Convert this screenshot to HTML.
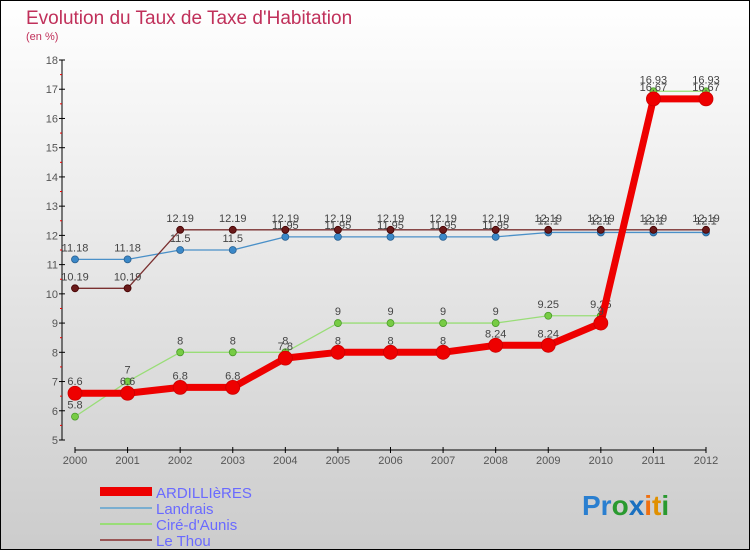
<!DOCTYPE html>
<html><head><meta charset="utf-8"><style>
body{margin:0;width:750px;height:550px;overflow:hidden;font-family:"Liberation Sans",sans-serif}
svg{display:block}
</style></head><body>
<svg width="750" height="550" xmlns="http://www.w3.org/2000/svg">
<defs><linearGradient id="bg" x1="0" y1="0" x2="0" y2="1"><stop offset="0" stop-color="#ffffff"/><stop offset="1" stop-color="#cccccc"/></linearGradient></defs>
<rect x="0.5" y="0.5" width="749" height="549" fill="url(#bg)" stroke="#000"/>
<text x="26" y="24" font-size="19" fill="#c0305a">Evolution du Taux de Taxe d'Habitation</text>
<text x="26" y="40" font-size="11" fill="#c0305a">(en %)</text>
<g id="axes"></g>
<g id="series"></g>
<g id="legend" font-size="15" fill="#6a6aff">
<rect x="100" y="487" width="52" height="9" fill="#e00"/>
<text x="156" y="498">ARDILLIèRES</text>
<rect x="100" y="507" width="52" height="2" fill="#7aaed0"/>
<text x="156" y="514">Landrais</text>
<rect x="100" y="523" width="52" height="2" fill="#99dd77"/>
<text x="156" y="530">Ciré-d'Aunis</text>
<rect x="100" y="539" width="52" height="2" fill="#995555"/>
<text x="156" y="546">Le Thou</text>
</g>
<text x="582" y="515" font-size="28" font-weight="bold"><tspan fill="#2a7fd0">Pr</tspan><tspan fill="#2a9a30">o</tspan><tspan fill="#1a70c0">x</tspan><tspan fill="#f07010">i</tspan><tspan fill="#e09000">t</tspan><tspan fill="#2a9a30">i</tspan></text>
</svg>
<script>
const years=[2000,2001,2002,2003,2004,2005,2006,2007,2008,2009,2010,2011,2012];
const ardillieres=[6.6,6.6,6.8,6.8,7.8,8,8,8,8.24,8.24,9,16.67,16.67];
const landrais=[11.18,11.18,11.5,11.5,11.95,11.95,11.95,11.95,11.95,12.1,12.1,12.1,12.1];
const cire=[5.8,7,8,8,8,9,9,9,9,9.25,9.25,16.93,16.93];
const lethou=[10.19,10.19,12.19,12.19,12.19,12.19,12.19,12.19,12.19,12.19,12.19,12.19,12.19];
const yTicks=[5,6,7,8,9,10,11,12,13,14,15,16,17,18];
const NS="http://www.w3.org/2000/svg";
function X(i){return 75+i*(706-75)/12;}
function Y(v){return 440-(v-5)*(380/13);}
function mk(tag,attrs,parent){const e=document.createElementNS(NS,tag);for(const k in attrs)e.setAttribute(k,attrs[k]);parent.appendChild(e);return e;}
const ax=document.getElementById('axes');
let l=mk('line',{x1:62,y1:60,x2:62,y2:440,stroke:'#000'},ax);


yTicks.forEach(v=>{
  mk('line',{x1:59,y1:Y(v),x2:65,y2:Y(v),stroke:'#000'},ax);
  if(v<18) mk('line',{x1:60,y1:Y(v+0.5),x2:62,y2:Y(v+0.5),stroke:'#e00'},ax);
  const t=mk('text',{x:58,y:Y(v)+4,'font-size':11,'text-anchor':'end',fill:'#555'},ax);
  t.textContent=v;
  
  
});
l=mk('line',{x1:75,y1:450,x2:706,y2:450,stroke:'#000'},ax);


years.forEach((y,i)=>{
  mk('line',{x1:X(i),y1:447,x2:X(i),y2:453,stroke:'#000'},ax);
  const t=mk('text',{x:X(i),y:464,'font-size':11,'text-anchor':'middle',fill:'#555'},ax);
  t.textContent=y;
  
  
});
const sg=document.getElementById('series');
function draw(vals,name,color,w,r,dot,stroke){
  const g=mk('g',{},sg);
  
  
  const p=mk('polyline',{points:vals.map((v,i)=>X(i)+','+Y(v)).join(' '),fill:'none',stroke:color,'stroke-width':w,'stroke-linejoin':'round'},g);
  
  
  vals.forEach((v,i)=>{
    const c=mk('circle',{cx:X(i),cy:Y(v),r:r,fill:dot,stroke:stroke,'stroke-width':0.8},g);
    
    
    const t=mk('text',{x:X(i),y:Y(v)-8,'font-size':11,'text-anchor':'middle',fill:'#444'},g);
    t.textContent=v;
    
    
  });
}
draw(landrais,'landrais-series','#4a90c8',1.3,3.5,'#3a88c8','#2a6090');
draw(lethou,'le-thou-series','#7a3030',1.3,3.5,'#6a1a1a','#400');
draw(cire,'cire-series','#99dd77',1.3,3.5,'#77cc44','#4a9a2a');
draw(ardillieres,'ardillieres-series','#ee0000',7,7,'#ee0000','#c00');
</script>
</body></html>
